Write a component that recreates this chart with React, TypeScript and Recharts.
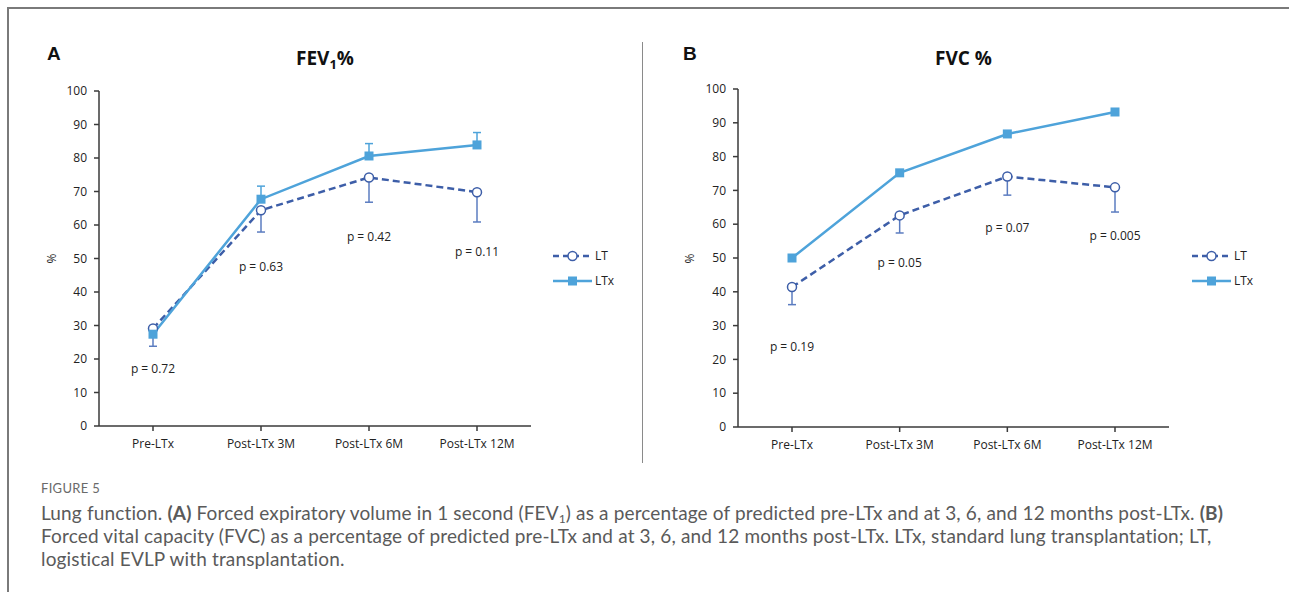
import React from 'react'
import {
  LineChart,
  Line,
  XAxis,
  YAxis,
  ErrorBar,
  ReferenceDot,
} from 'recharts'

const categories = ['Pre-LTx', 'Post-LTx 3M', 'Post-LTx 6M', 'Post-LTx 12M']
const yTicks = [0, 10, 20, 30, 40, 50, 60, 70, 80, 90, 100]

// panel A: FEV1 %
const fevLT = [29.1, 64.4, 74.2, 69.8]
const fevLTx = [27.4, 67.7, 80.6, 83.9]
const fevLTDown = [5.3, 6.5, 7.4, 8.9]
const fevLTxUp = [1.2, 3.9, 3.7, 3.7]
const fevPText = ['p = 0.72', 'p = 0.63', 'p = 0.42', 'p = 0.11']
const fevPY = [17.2, 47.4, 56.6, 51.9]

// panel B: FVC %
const fvcLT = [41.4, 62.6, 74.1, 70.9]
const fvcLTx = [50.0, 75.2, 86.7, 93.2]
const fvcLTDown = [5.2, 5.2, 5.5, 7.3]
const fvcPText = ['p = 0.19', 'p = 0.05', 'p = 0.07', 'p = 0.005']
const fvcPY = [23.7, 48.6, 58.9, 56.6]

const LT_COLOR = '#3d5ea8'
const LT_ERR = '#5b7cc0'
const LTX_COLOR = '#4ea3da'
const AXIS = '#3a3a3a'
const FONT = '"Open Sans", "Liberation Sans", sans-serif'

const CircleDot = (props: any) => {
  const { cx, cy } = props
  if (cx == null || cy == null) return null
  return <circle cx={cx} cy={cy} r={4.5} fill="#fff" stroke={LT_COLOR} strokeWidth={1.5} />
}

const SquareDot = (props: any) => {
  const { cx, cy } = props
  if (cx == null || cy == null) return null
  return <rect x={cx - 4.5} y={cy - 4.5} width={9} height={9} fill={LTX_COLOR} />
}

interface PanelProps {
  lt: number[]
  ltx: number[]
  ltDown: number[]
  ltxUp?: number[]
  pText: string[]
  pY: number[]
  margin: { top: number; right: number; left: number; bottom: number }
}

function Panel({ lt, ltx, ltDown, ltxUp, pText, pY, margin }: PanelProps) {
  const data = categories.map((c, i) => ({
    cat: c,
    lt: lt[i],
    ltx: ltx[i],
    ltErr: [ltDown[i], 0],
    ltxErr: [0, ltxUp ? ltxUp[i] : 0],
  }))
  const tick = { fontSize: 12, fill: '#222', fontFamily: FONT }

  return (
    <LineChart width={640} height={470} data={data} margin={margin}>
      <XAxis
        dataKey="cat"
        padding={{ left: 54, right: 54 }}
        tick={tick}
        tickSize={5}
        tickMargin={8}
        height={30}
        axisLine={{ stroke: AXIS, strokeWidth: 1.5 }}
        tickLine={{ stroke: AXIS, strokeWidth: 1.5 }}
        interval={0}
      />
      <YAxis
        domain={[0, 100]}
        ticks={yTicks}
        width={40}
        tick={tick}
        tickSize={5}
        tickMargin={7}
        axisLine={{ stroke: AXIS, strokeWidth: 1.5 }}
        tickLine={{ stroke: AXIS, strokeWidth: 1.5 }}
        interval={0}
      />
      <Line
        dataKey="lt"
        stroke={LT_COLOR}
        strokeWidth={2.5}
        strokeDasharray="7 4"
        dot={<CircleDot />}
        activeDot={false}
        isAnimationActive={false}
      >
        <ErrorBar dataKey="ltErr" direction="y" width={4} stroke={LT_ERR} strokeWidth={1.5} isAnimationActive={false} />
      </Line>
      <Line
        dataKey="ltx"
        stroke={LTX_COLOR}
        strokeWidth={2.5}
        dot={<SquareDot />}
        activeDot={false}
        isAnimationActive={false}
      >
        {ltxUp && (
          <ErrorBar dataKey="ltxErr" direction="y" width={4} stroke={LTX_COLOR} strokeWidth={1.5} isAnimationActive={false} />
        )}
      </Line>
      {categories.map((c, i) => (
        <ReferenceDot
          key={c}
          x={c}
          y={pY[i]}
          r={0}
          fill="none"
          stroke="none"
          label={{ value: pText[i], position: 'center', fontSize: 12, fill: '#222', fontFamily: FONT }}
        />
      ))}
    </LineChart>
  )
}

function LegendBox({ left, top }: { left: number; top: number }) {
  const txt: React.CSSProperties = { position: 'absolute', left: 42, fontSize: 12, fontFamily: FONT, color: '#222', lineHeight: '14px' }
  return (
    <div style={{ position: 'absolute', left, top, width: 80, height: 40 }}>
      <svg width={40} height={40} style={{ position: 'absolute', left: 0, top: 0 }}>
        <line x1={0} y1={7} x2={39} y2={7} stroke={LT_COLOR} strokeWidth={2.5} strokeDasharray="6 4" />
        <circle cx={19.5} cy={7} r={4.5} fill="#fff" stroke={LT_COLOR} strokeWidth={1.5} />
        <line x1={0} y1={32} x2={39} y2={32} stroke={LTX_COLOR} strokeWidth={2.5} />
        <rect x={15} y={27.5} width={9} height={9} fill={LTX_COLOR} />
      </svg>
      <div style={{ ...txt, top: 0 }}>LT</div>
      <div style={{ ...txt, top: 25 }}>LTx</div>
    </div>
  )
}

export default function App() {
  const title: React.CSSProperties = {
    position: 'absolute',
    fontFamily: FONT,
    fontWeight: 700,
    fontSize: 19,
    color: '#111',
    lineHeight: '24px',
  }
  const letter: React.CSSProperties = {
    position: 'absolute',
    fontFamily: '"Liberation Sans", Arial, sans-serif',
    fontWeight: 700,
    fontSize: 19,
    color: '#111',
    lineHeight: '20px',
  }
  const pct: React.CSSProperties = {
    position: 'absolute',
    fontFamily: FONT,
    fontSize: 12,
    color: '#222',
    transform: 'rotate(-90deg)',
  }
  const caption: React.CSSProperties = {
    position: 'absolute',
    left: 41,
    fontFamily: 'Lato, "Open Sans", sans-serif',
    fontSize: 19,
    letterSpacing: 0.15,
    color: '#5a5a5a',
    lineHeight: '22px',
    whiteSpace: 'nowrap',
  }

  return (
    <div style={{ position: 'absolute', left: 0, top: 0, width: 1289, height: 592, background: '#fff', overflow: 'hidden' }}>
      <div style={{ position: 'absolute', left: 7, top: 7, width: 1282, height: 585, borderTop: '2px solid #7a7a7a', borderLeft: '2px solid #7a7a7a' }} />

      <div style={{ position: 'absolute', left: 0, top: 0 }}>
        <Panel lt={fevLT} ltx={fevLTx} ltDown={fevLTDown} ltxUp={fevLTxUp} pText={fevPText} pY={fevPY}
          margin={{ top: 91, right: 109, left: 59, bottom: 14 }} />
      </div>
      <div style={{ position: 'absolute', left: 640, top: 0 }}>
        <Panel lt={fvcLT} ltx={fvcLTx} ltDown={fvcLTDown} pText={fvcPText} pY={fvcPY}
          margin={{ top: 89, right: 111, left: 58, bottom: 13 }} />
      </div>

      <div style={{ ...letter, left: 47, top: 44 }}>A</div>
      <div style={{ ...letter, left: 683, top: 44 }}>B</div>
      <div style={{ ...title, left: 296, top: 46 }}>FEV<sub style={{ fontSize: 13, verticalAlign: -4 }}>1</sub>%</div>
      <div style={{ ...title, left: 935, top: 46 }}>FVC %</div>
      <div style={{ ...pct, left: 47, top: 250 }}>%</div>
      <div style={{ ...pct, left: 685, top: 250 }}>%</div>

      <LegendBox left={553} top={249} />
      <LegendBox left={1192} top={249} />

      <div style={{ position: 'absolute', left: 642, top: 42, width: 1, height: 421, background: '#8a8a8a' }} />

      <div style={{ ...caption, top: 479, fontSize: 13, color: '#6a6a6a', letterSpacing: 0.3, lineHeight: '18px' }}>FIGURE 5</div>
      <div style={{ ...caption, top: 502 }}>
        Lung function. <b>(A)</b> Forced expiratory volume in 1 second (FEV<sub style={{ fontSize: 12, verticalAlign: -3, lineHeight: 0 }}>1</sub>) as a percentage of predicted pre-LTx and at 3, 6, and 12 months post-LTx. <b>(B)</b>
      </div>
      <div style={{ ...caption, top: 525 }}>
        Forced vital capacity (FVC) as a percentage of predicted pre-LTx and at 3, 6, and 12 months post-LTx. LTx, standard lung transplantation; LT,
      </div>
      <div style={{ ...caption, top: 548 }}>logistical EVLP with transplantation.</div>
    </div>
  )
}
